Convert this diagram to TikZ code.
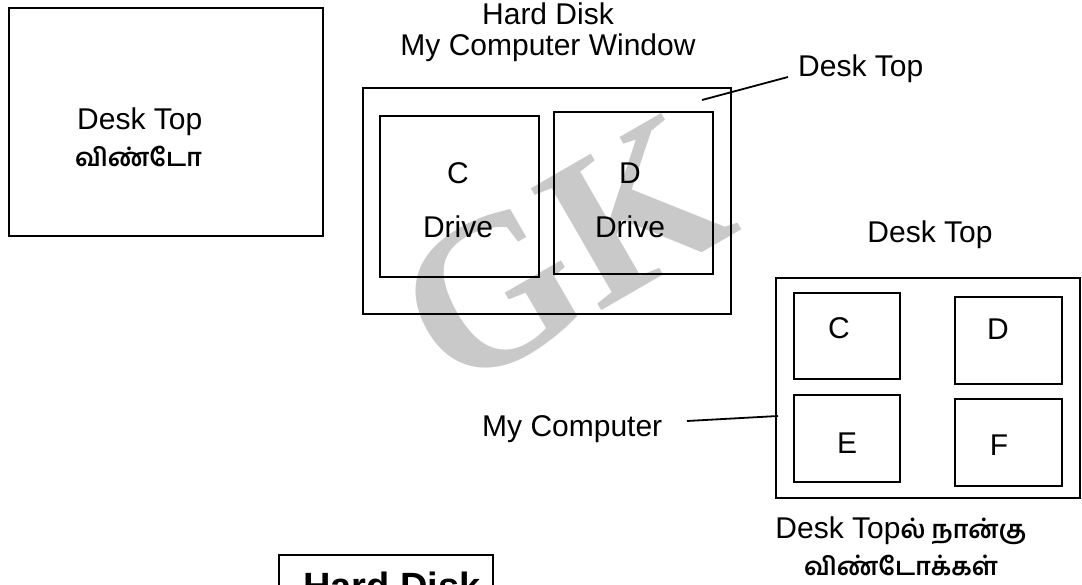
\documentclass[tikz,border=0pt]{standalone}
\usepackage{fontspec}
\setmainfont{Liberation Sans}
\newfontfamily\tamil[Script=Tamil]{Hind Madurai}
\newfontfamily\wmfont{Liberation Serif}
\begin{document}
\begin{tikzpicture}[x=1pt,y=-1pt,
  box/.style={draw=black, line width=1.8pt, inner sep=0pt, anchor=north west},
  lbl/.style={inner sep=0pt, font=\fontsize{30}{34}\selectfont},
  tlbl/.style={inner sep=0pt, font=\tamil\bfseries\fontsize{25}{30}\selectfont},
  lead/.style={draw=black, line width=1.8pt}]
\clip (0,0) rectangle (1082,585);
\fill[white] (0,0) rectangle (1082,585);
% watermark
\node[inner sep=0pt, text=black!21, rotate=30, font=\wmfont\bfseries\fontsize{215}{215}\selectfont] (wm) at (563,252) {GK};
% left desk top window
\node[box, minimum width=314pt, minimum height=228pt] (dtwin) at (8,7) {};
\node[lbl, anchor=base west] (dtwinA) at (77,130) {Desk Top};
\node[tlbl, anchor=base west] (dtwinB) at (75,167) {விண்டோ};
% my computer window
\node[lbl, anchor=base] (hdA) at (548,25) {Hard Disk};
\node[lbl, anchor=base] (hdB) at (548,56) {My Computer Window};
\node[box, minimum width=368pt, minimum height=226pt] (mcw) at (362,87) {};
\node[box, minimum width=159pt, minimum height=161pt] (cdrv) at (379,115) {};
\node[box, minimum width=159pt, minimum height=162pt] (ddrv) at (553,111) {};
\node[lbl, anchor=base] (cA) at (458,184) {C};
\node[lbl, anchor=base] (cB) at (458,238) {Drive};
\node[lbl, anchor=base] (dA) at (630,184) {D};
\node[lbl, anchor=base] (dB) at (630,238) {Drive};
\coordinate (l1a) at (702,100);
\coordinate (l1b) at (788,77);
\draw[lead] (l1a) -- (l1b);
\node[lbl, anchor=base west] (dtlab) at (798,77) {Desk Top};
% right desk top
\node[lbl, anchor=base] (dt2) at (930,243) {Desk Top};
\node[box, minimum width=304pt, minimum height=220pt] (rbox) at (775,277) {};
\node[box, minimum width=106pt, minimum height=86pt] (bc) at (793,292) {};
\node[box, minimum width=107pt, minimum height=87pt] (bd) at (954,296) {};
\node[box, minimum width=106pt, minimum height=87pt] (be) at (793,394) {};
\node[box, minimum width=107pt, minimum height=87pt] (bf) at (954,398) {};
\node[lbl, anchor=base] (lc) at (839,338) {C};
\node[lbl, anchor=base] (ld) at (998,340) {D};
\node[lbl, anchor=base] (le) at (847,453) {E};
\node[lbl, anchor=base] (lf) at (999,455) {F};
\node[lbl, anchor=base west] (mycomp) at (482,436) {My Computer};
\coordinate (l2a) at (687,421);
\coordinate (l2b) at (778,416);
\draw[lead] (l2a) -- (l2b);
\node[lbl, anchor=base] (capA) at (901,538) {Desk Top{\tamil\bfseries\fontsize{25}{30}\selectfont ல் நான்கு}};
\node[tlbl, anchor=base] (capB) at (901,575) {விண்டோக்கள்};
% bottom hard disk box
\node[box, minimum width=214pt, minimum height=60pt] (hdbox) at (278,554) {};
\node[inner sep=0pt, anchor=base, font=\bfseries\fontsize{38}{42}\selectfont] (hdtxt) at (392,599) {Hard Disk};
\end{tikzpicture}
\end{document}
